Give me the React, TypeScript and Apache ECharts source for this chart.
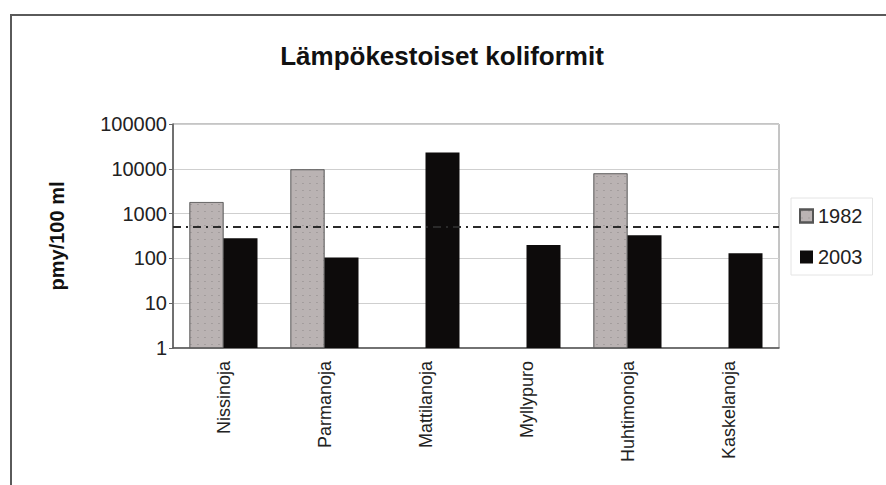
import React, { useEffect, useRef } from "react";
import * as echarts from "echarts";

const categories = ["Nissinoja", "Parmanoja", "Mattilanoja", "Myllypuro", "Huhtimonoja", "Kaskelanoja"];
const values1982: (number | null)[] = [1800, 9700, null, null, 7900, null];
const values2003: number[] = [280, 105, 23000, 200, 330, 130];
const limitValue = 500;
const yTicks = [1, 10, 100, 1000, 10000, 100000];

const FONT = "Liberation Sans, Arial, sans-serif";

export default function App() {
  const ref = useRef<HTMLDivElement>(null);
  useEffect(() => {
    const chart = echarts.init(ref.current!, null, { renderer: "svg" });
    chart.setOption({
      animation: false,
      backgroundColor: "#ffffff",
      aria: { enabled: false, decal: { show: true } },
      title: {
        text: "Lämpökestoiset koliformit",
        left: 437,
        textAlign: "center",
        top: 38,
        textStyle: { fontFamily: FONT, fontSize: 26, fontWeight: "bold", color: "#111" },
      },
      graphic: [
        {
          type: "rect",
          shape: { x: 11, y: 15, width: 900, height: 500 },
          style: { fill: "none", stroke: "#5a5a5a", lineWidth: 2 },
          silent: true,
        },
      ],
      legend: {
        orient: "vertical",
        left: 791,
        top: 198,
        itemWidth: 13,
        itemHeight: 13,
        itemGap: 21,
        padding: [8, 10, 8, 8],
        borderColor: "#e4e4e4",
        borderWidth: 1,
        icon: "rect",
        textStyle: { fontFamily: FONT, fontSize: 20, color: "#222" },
        data: ["1982", "2003"],
      },
      grid: {
        left: 173,
        right: 107,
        top: 124,
        bottom: 137,
        show: true,
        borderColor: "#8a8a8a",
        borderWidth: 1,
      },
      xAxis: {
        type: "category",
        data: categories,
        axisLine: { lineStyle: { color: "#555", width: 1.5 } },
        axisTick: { show: false },
        axisLabel: {
          rotate: 90,
          margin: 13,
          fontFamily: FONT,
          fontSize: 18,
          color: "#222",
        },
      },
      yAxis: {
        type: "log",
        logBase: 10,
        min: yTicks[0],
        max: yTicks[yTicks.length - 1],
        name: "pmy/100 ml",
        nameLocation: "middle",
        nameRotate: 90,
        nameGap: 106,
        nameTextStyle: { fontFamily: FONT, fontSize: 20, fontWeight: "bold", color: "#111" },
        axisLine: { show: true, lineStyle: { color: "#555", width: 1.5 } },
        axisTick: { show: true, length: 4, lineStyle: { color: "#666" } },
        axisLabel: {
          margin: 6,
          fontFamily: FONT,
          fontSize: 20,
          color: "#222",
          formatter: (v: number) => String(Math.round(v)),
        },
        splitLine: { show: true, lineStyle: { color: "#cfcfcf", width: 1 } },
      },
      series: [
        {
          name: "1982",
          type: "bar",
          data: values1982,
          barWidth: 34,
          barGap: "0%",
          itemStyle: {
            color: "#bab3b3",
            borderColor: "#555",
            borderWidth: 0.6,
            decal: {
              symbol: "circle",
              symbolSize: 0.35,
              color: "rgba(70,70,70,0.45)",
              dashArrayX: [4, 3],
              dashArrayY: [3, 4],
              rotation: 0,
            },
          },
          markLine: {
            silent: true,
            symbol: "none",
            label: { show: false },
            lineStyle: { color: "#2a2a2a", type: [8, 5, 2, 5], width: 1.8 },
            data: [{ yAxis: limitValue }],
          },
        },
        {
          name: "2003",
          type: "bar",
          data: values2003,
          barWidth: 34,
          barGap: "0%",
          itemStyle: { color: "#0d0b0b", decal: { symbol: "none" } },
        },
      ],
    });
    return () => chart.dispose();
  }, []);
  return (
    <div
      ref={ref}
      style={{ position: "fixed", left: 0, top: 0, width: 886, height: 485 }}
    />
  );
}
